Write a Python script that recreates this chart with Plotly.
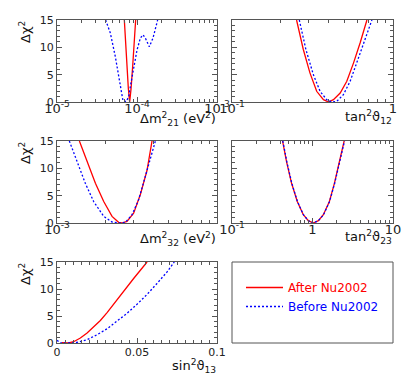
import plotly.graph_objects as go

# ---------------- data ----------------
# Panel 1: Delta m^2_21 (eV^2)
dm21_after = [6.944e-5, 7.214e-5, 7.499e-5, 7.791e-5, 8.094e-5, 8.414e-5, 8.826e-5, 9.261e-5, 9.623e-5]
chi_dm21_after = [15, 10.5, 6.3, 2.5, 0, 2.3, 6.5, 11, 15]
dm21_before = [4.055e-5, 4.645e-5, 5.358e-5, 5.902e-5, 6.310e-5, 6.683e-5, 7.362e-5, 7.870e-5, 8.414e-5,
               9.078e-5, 1.000e-4, 1.102e-4, 1.189e-4, 1.271e-4, 1.426e-4, 1.585e-4, 1.811e-4]
chi_dm21_before = [15, 12.6, 8.3, 4.7, 1.6, 0.2, 0.1, 1.0, 3.5, 6.5, 9.5, 11.7, 12.3, 11.7, 10.1, 11.7, 15]

# Panel 2: tan^2 theta_12
t12_after = [0.2518, 0.2773, 0.3048, 0.3357, 0.3698, 0.3972, 0.4266, 0.4699, 0.5164, 0.5689, 0.6252, 0.6887]
chi_t12_after = [15, 9.61, 5.33, 1.96, 0.43, 0, 0.43, 1.65, 3.80, 7.16, 10.84, 15]
t12_before = [0.2618, 0.2877, 0.3199, 0.3524, 0.3873, 0.4169, 0.4477, 0.4920, 0.5420, 0.5957, 0.6561, 0.7396]
chi_t12_before = [15, 9.61, 5.02, 1.96, 0.43, 0, 0.12, 1.35, 3.80, 7.16, 10.84, 15]

# Panel 3: Delta m^2_32 (eV^2)
dm32_after = [1.380e-3, 1.540e-3, 1.738e-3, 1.959e-3, 2.208e-3, 2.427e-3, 2.547e-3, 2.739e-3, 3.013e-3,
              3.319e-3, 3.651e-3, 3.926e-3]
chi_dm32_after = [15, 11.19, 7.26, 3.93, 1.21, 0.12, 0, 0.30, 1.81, 5.2, 9.6, 15]
dm32_before = [1.194e-3, 1.334e-3, 1.503e-3, 1.694e-3, 1.959e-3, 2.208e-3, 2.489e-3, 2.673e-3, 2.944e-3,
               3.236e-3, 3.565e-3, 4.121e-3]
chi_dm32_before = [15, 11.19, 7.26, 3.93, 1.21, 0.18, 0, 0.12, 1.51, 4.23, 8.5, 15]

# Panel 4: tan^2 theta_23
t23_after = [0.4246, 0.4764, 0.5495, 0.6471, 0.7691, 0.8872, 1.0233, 1.1830, 1.3646, 1.6218, 1.8707, 2.1627, 2.4717]
chi_t23_after = [15, 11.19, 7.26, 3.93, 1.51, 0.42, 0, 0.42, 1.51, 3.93, 7.26, 11.19, 15]
t23_before = [0.428, 0.480, 0.553, 0.650, 0.771, 0.889, 1.023, 1.186, 1.370, 1.630, 1.885, 2.180, 2.500]
chi_t23_before = [15, 11.19, 7.26, 3.93, 1.51, 0.42, 0, 0.42, 1.51, 3.93, 7.26, 11.19, 15]

# Panel 5: sin^2 theta_13
s13_after = [0.003, 0.0073, 0.0104, 0.0146, 0.0188, 0.0229, 0.0271, 0.0313, 0.0354, 0.0396, 0.0438, 0.0479,
             0.0521, 0.0563]
chi_s13_after = [0.05, 0, 0.24, 0.92, 1.84, 2.94, 4.16, 5.63, 7.22, 8.69, 10.29, 11.94, 13.47, 15]
s13_before = [0, 0.0021, 0.0083, 0.0125, 0.0188, 0.025, 0.0313, 0.0375, 0.0438, 0.05, 0.0563, 0.0625,
              0.0688, 0.0733]
chi_s13_before = [0.5, 0, 0, 0.12, 0.61, 1.53, 2.63, 3.98, 5.51, 7.16, 9.0, 11.02, 13.16, 15]

series_names = ["After Nu2002", "Before Nu2002"]
y_ticks = [0, 5, 10, 15]

# ---------------- layout helpers ----------------
WIN_W, WIN_H = 415, 374
OFF = 8                      # default page margin around the plot div
W, H = WIN_W - OFF, WIN_H - OFF
FONT = "DejaVu Sans, Verdana, sans-serif"
FRAME = "#555555"
RED, BLUE = "#ff0000", "#0000ff"


def px_x(p):
    return (p - OFF) / W


def px_y(p):
    return 1 - (p - OFF) / H


cols = [(57, 217), (232, 393)]
rows = [(20, 102), (141, 223), (262, 343)]

panels = [
    # (row, col, xtype, range, tickvals, ticktext, minor vals, after, before, title, title offset)
    (0, 0, "log", [-5, -3], [1e-5, 1e-4, 1e-3], ["10<sup>-5</sup>", "10<sup>-4</sup>", "10<sup>-3</sup>"],
     [m * 10 ** e for e in (-5, -4) for m in range(2, 10)],
     (dm21_after, chi_dm21_after), (dm21_before, chi_dm21_before),
     "Δm<sup>2</sup><sub>21</sub> (eV<sup>2</sup>)", 17),
    (0, 1, "log", [-1, 0], [0.1, 1], ["10<sup>-1</sup>", "1"],
     [m * 0.1 for m in range(2, 10)],
     (t12_after, chi_t12_after), (t12_before, chi_t12_before),
     "tan<sup>2</sup>ϑ<sub>12</sub>", 15),
    (1, 0, "log", [-3, -2], [1e-3], ["10<sup>-3</sup>"],
     [m * 1e-3 for m in range(2, 10)],
     (dm32_after, chi_dm32_after), (dm32_before, chi_dm32_before),
     "Δm<sup>2</sup><sub>32</sub> (eV<sup>2</sup>)", 16),
    (1, 1, "log", [-1, 1], [0.1, 1, 10], ["10<sup>-1</sup>", "1", "10"],
     [m * 10 ** e for e in (-1, 0) for m in range(2, 10)],
     (t23_after, chi_t23_after), (t23_before, chi_t23_before),
     "tan<sup>2</sup>ϑ<sub>23</sub>", 14),
    (2, 0, "linear", [0, 0.1], [0, 0.05, 0.1], ["0", "0.05", "0.1"],
     [i * 0.005 for i in range(21)],
     (s13_after, chi_s13_after), (s13_before, chi_s13_before),
     "sin<sup>2</sup>ϑ<sub>13</sub>", 23),
]

fig = go.Figure()
annotations = []
layout = {}

for i, (r, c, xtype, xr, tv, tt, minor_vals, after, before, title, toff) in enumerate(panels):
    n = "" if i == 0 else str(i + 1)
    xa, ya = "x" + n, "y" + n
    x0, x1 = cols[c]
    y0, y1 = rows[r]
    axis_common = dict(
        showline=True, linecolor=FRAME, linewidth=1, mirror="allticks",
        ticks="inside", ticklen=5, tickcolor=FRAME, tickwidth=1,
        showgrid=False, zeroline=False, automargin=False,
        tickfont=dict(family=FONT, size=11, color="#222"),
    )
    layout["xaxis" + n] = dict(
        axis_common, type=xtype, range=xr, domain=[px_x(x0), px_x(x1)], anchor=ya,
        tickmode="array", tickvals=tv, ticktext=tt,
        tickfont=dict(family=FONT, size=(13 if xtype == "log" else 11), color="#222"),
        ticklabelstandoff=(-6 if xtype == "log" else -1),
        minor=dict(ticks="inside", ticklen=3, tickcolor=FRAME, tickmode="array", tickvals=minor_vals),
    )
    layout["yaxis" + n] = dict(
        axis_common, range=[0, 15], domain=[px_y(y1), px_y(y0)], anchor=xa,
        tickmode="array", tickvals=y_ticks, showticklabels=(c == 0),
        minor=dict(ticks="inside", ticklen=3, tickcolor=FRAME, dtick=1),
    )
    fig.add_trace(go.Scatter(x=after[0], y=after[1], mode="lines", xaxis=xa, yaxis=ya,
                             line=dict(color=RED, width=1.3), name=series_names[0],
                             legendgroup="a", showlegend=(i == 0)))
    fig.add_trace(go.Scatter(x=before[0], y=before[1], mode="lines", xaxis=xa, yaxis=ya,
                             line=dict(color=BLUE, width=1.3, dash="2px,2px"), name=series_names[1],
                             legendgroup="b", showlegend=(i == 0)))
    # x-axis title, right aligned at the panel's right edge
    annotations.append(dict(text=title, xref="paper", yref="paper", x=px_x(x1 + 1), y=px_y(y1 + toff),
                            xanchor="right", yanchor="middle", showarrow=False,
                            font=dict(family=FONT, size=13, color="#111")))
    if c == 0:
        annotations.append(dict(text="Δχ<sup>2</sup>", xref="paper", yref="paper", x=px_x(25), y=px_y(y0 - 1),
                                xanchor="center", yanchor="top", textangle=-90, showarrow=False,
                                font=dict(family=FONT, size=13, color="#111")))

fig.update_layout(**layout)
fig.update_layout(
    width=W, height=H, margin=dict(l=0, r=0, t=0, b=0),
    paper_bgcolor="white", plot_bgcolor="white",
    annotations=annotations,
    shapes=[dict(type="rect", xref="paper", yref="paper", x0=px_x(232), x1=px_x(393),
                 y0=px_y(343), y1=px_y(262), line=dict(color=FRAME, width=1))],
    legend=dict(x=px_x(241), y=px_y(273), xanchor="left", yanchor="top", itemwidth=37,
                bgcolor="rgba(0,0,0,0)", borderwidth=0, tracegroupgap=0,
                font=dict(family=FONT, size=12, color="#000")),
)
# colour legend texts like their lines
fig.data[0].name = "<span style='color:#ff0000'>After Nu2002</span>"
fig.data[1].name = "<span style='color:#0000ff'>Before Nu2002</span>"

fig.write_html("out.html")
